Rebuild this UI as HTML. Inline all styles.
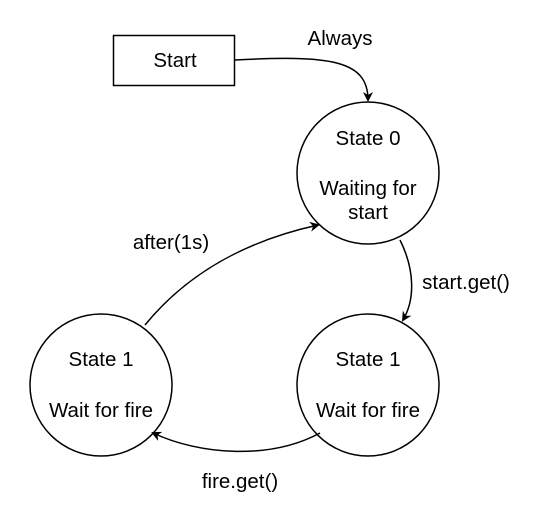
<!DOCTYPE html>
<html><head><style>
body{margin:0;background:#fff;}
svg text{font-family:"Liberation Sans",Arial,sans-serif;font-size:20.5px;fill:#000;}
</style></head><body>
<svg width="534" height="513" viewBox="0 0 534 513" xmlns="http://www.w3.org/2000/svg">
<defs><marker id="a" markerWidth="10" markerHeight="10" refX="8" refY="5" orient="auto" markerUnits="userSpaceOnUse"><path d="M0,0 L10,5 L0,10 L3,5 Z" fill="#000"/></marker></defs>
<rect x="113.5" y="35.5" width="121" height="50" fill="#fff" stroke="#000" stroke-width="1.5"/>
<text x="175" y="67" text-anchor="middle">Start</text>
<circle cx="368" cy="173" r="71" fill="#fff" stroke="#000" stroke-width="1.5"/>
<text x="368" y="145" text-anchor="middle">State 0</text>
<text x="368" y="195" text-anchor="middle">Waiting for</text>
<text x="368" y="219" text-anchor="middle">start</text>
<circle cx="368" cy="385" r="71" fill="#fff" stroke="#000" stroke-width="1.5"/>
<text x="368" y="366" text-anchor="middle">State 1</text>
<text x="368" y="417" text-anchor="middle">Wait for fire</text>
<circle cx="101" cy="385" r="71" fill="#fff" stroke="#000" stroke-width="1.5"/>
<text x="101" y="366" text-anchor="middle">State 1</text>
<text x="101" y="417" text-anchor="middle">Wait for fire</text>
<g fill="none" stroke="#000" stroke-width="1.5">
<path d="M235,60 C330,55 368,60 368,100" marker-end="url(#a)"/>
<path d="M400,240 C415,270 415,300 403,320" marker-end="url(#a)"/>
<path d="M320,433 C270,460 200,455 153,433" marker-end="url(#a)"/>
<path d="M145,325 C190,270 250,240 318,225" marker-end="url(#a)"/>
</g>
<text x="340" y="45" text-anchor="middle">Always</text>
<text x="466" y="289" text-anchor="middle">start.get()</text>
<text x="240" y="488" text-anchor="middle">fire.get()</text>
<text x="171" y="249" text-anchor="middle">after(1s)</text>
</svg>
</body></html>
